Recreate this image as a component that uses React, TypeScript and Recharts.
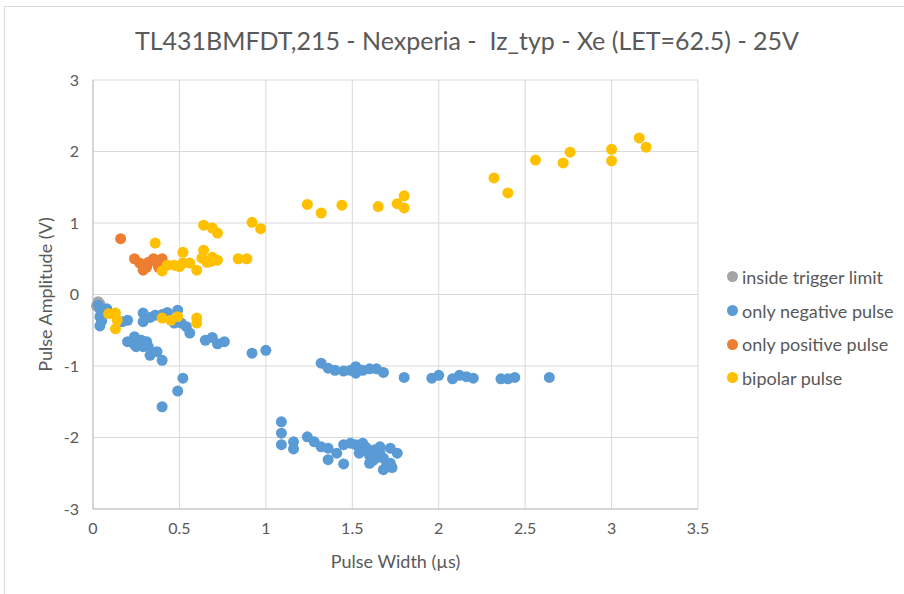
import type { JSX } from "react";

import { CartesianGrid, Scatter, ScatterChart, XAxis, YAxis } from "recharts";

// pulse width (µs) / amplitude (V) pairs
const insideTrigger = [
	{ x: 0.03, y: -0.1 },
	{ x: 0.04, y: -0.13 },
	{ x: 0.02, y: -0.16 },
];

const onlyNegative = [
	{ x: 0.03, y: -0.15 }, { x: 0.04, y: -0.2 }, { x: 0.05, y: -0.26 }, { x: 0.04, y: -0.31 }, { x: 0.05, y: -0.37 },
	{ x: 0.04, y: -0.44 }, { x: 0.06, y: -0.24 }, { x: 0.08, y: -0.2 }, { x: 0.17, y: -0.38 }, { x: 0.2, y: -0.36 },
	{ x: 0.29, y: -0.26 }, { x: 0.29, y: -0.38 }, { x: 0.33, y: -0.32 }, { x: 0.36, y: -0.29 }, { x: 0.4, y: -0.28 },
	{ x: 0.43, y: -0.25 }, { x: 0.49, y: -0.22 }, { x: 0.47, y: -0.4 }, { x: 0.51, y: -0.4 }, { x: 0.54, y: -0.45 },
	{ x: 0.56, y: -0.54 }, { x: 0.2, y: -0.66 }, { x: 0.24, y: -0.59 }, { x: 0.24, y: -0.7 }, { x: 0.28, y: -0.64 },
	{ x: 0.25, y: -0.73 }, { x: 0.29, y: -0.73 }, { x: 0.32, y: -0.73 }, { x: 0.31, y: -0.66 }, { x: 0.33, y: -0.85 },
	{ x: 0.37, y: -0.8 }, { x: 0.4, y: -0.92 }, { x: 0.65, y: -0.64 }, { x: 0.69, y: -0.6 }, { x: 0.72, y: -0.69 },
	{ x: 0.76, y: -0.66 }, { x: 0.92, y: -0.82 }, { x: 1.0, y: -0.78 }, { x: 0.52, y: -1.17 }, { x: 0.49, y: -1.35 },
	{ x: 0.4, y: -1.57 }, { x: 1.32, y: -0.96 }, { x: 1.36, y: -1.03 }, { x: 1.4, y: -1.06 }, { x: 1.45, y: -1.07 },
	{ x: 1.49, y: -1.06 }, { x: 1.52, y: -1.01 }, { x: 1.52, y: -1.1 }, { x: 1.56, y: -1.06 }, { x: 1.6, y: -1.04 },
	{ x: 1.64, y: -1.04 }, { x: 1.68, y: -1.09 }, { x: 1.8, y: -1.16 }, { x: 1.96, y: -1.17 }, { x: 2.0, y: -1.13 },
	{ x: 2.08, y: -1.18 }, { x: 2.12, y: -1.13 }, { x: 2.16, y: -1.15 }, { x: 2.2, y: -1.17 }, { x: 2.36, y: -1.18 },
	{ x: 2.4, y: -1.18 }, { x: 2.44, y: -1.16 }, { x: 2.64, y: -1.16 }, { x: 1.09, y: -1.78 }, { x: 1.09, y: -1.94 },
	{ x: 1.09, y: -2.1 }, { x: 1.16, y: -2.06 }, { x: 1.16, y: -2.16 }, { x: 1.24, y: -1.99 }, { x: 1.28, y: -2.06 },
	{ x: 1.32, y: -2.13 }, { x: 1.36, y: -2.15 }, { x: 1.36, y: -2.31 }, { x: 1.41, y: -2.22 }, { x: 1.45, y: -2.37 },
	{ x: 1.45, y: -2.1 }, { x: 1.49, y: -2.08 }, { x: 1.52, y: -2.1 }, { x: 1.56, y: -2.08 }, { x: 1.54, y: -2.22 },
	{ x: 1.6, y: -2.36 }, { x: 1.63, y: -2.17 }, { x: 1.66, y: -2.13 }, { x: 1.68, y: -2.29 }, { x: 1.68, y: -2.45 },
	{ x: 1.72, y: -2.15 }, { x: 1.72, y: -2.36 }, { x: 1.76, y: -2.22 }, { x: 1.73, y: -2.42 }, { x: 1.56, y: -2.18 },
	{ x: 1.6, y: -2.25 }, { x: 1.64, y: -2.28 }, { x: 1.62, y: -2.32 }, { x: 1.7, y: -2.38 }, { x: 1.66, y: -2.2 },
	{ x: 1.58, y: -2.14 },
];

const onlyPositive = [
	{ x: 0.16, y: 0.78 }, { x: 0.24, y: 0.5 }, { x: 0.27, y: 0.44 }, { x: 0.29, y: 0.34 }, { x: 0.32, y: 0.45 },
	{ x: 0.35, y: 0.5 }, { x: 0.37, y: 0.44 }, { x: 0.4, y: 0.5 }, { x: 0.38, y: 0.38 }, { x: 0.31, y: 0.38 },
];

const bipolar = [
	{ x: 0.36, y: 0.72 }, { x: 0.4, y: 0.33 }, { x: 0.43, y: 0.41 }, { x: 0.47, y: 0.41 }, { x: 0.5, y: 0.39 },
	{ x: 0.52, y: 0.59 }, { x: 0.52, y: 0.44 }, { x: 0.56, y: 0.44 }, { x: 0.6, y: 0.34 }, { x: 0.64, y: 0.62 },
	{ x: 0.63, y: 0.51 }, { x: 0.66, y: 0.45 }, { x: 0.68, y: 0.46 }, { x: 0.69, y: 0.52 }, { x: 0.72, y: 0.48 },
	{ x: 0.84, y: 0.5 }, { x: 0.89, y: 0.5 }, { x: 0.64, y: 0.97 }, { x: 0.69, y: 0.93 }, { x: 0.72, y: 0.86 },
	{ x: 0.92, y: 1.01 }, { x: 0.97, y: 0.92 }, { x: 1.24, y: 1.26 }, { x: 1.32, y: 1.14 }, { x: 1.44, y: 1.25 },
	{ x: 1.65, y: 1.23 }, { x: 1.76, y: 1.27 }, { x: 1.8, y: 1.38 }, { x: 1.8, y: 1.21 }, { x: 2.32, y: 1.63 },
	{ x: 2.4, y: 1.42 }, { x: 2.56, y: 1.88 }, { x: 2.72, y: 1.84 }, { x: 2.76, y: 1.99 }, { x: 3.0, y: 1.87 },
	{ x: 3.0, y: 2.03 }, { x: 3.16, y: 2.19 }, { x: 3.2, y: 2.06 }, { x: 0.09, y: -0.27 }, { x: 0.13, y: -0.26 },
	{ x: 0.14, y: -0.36 }, { x: 0.13, y: -0.48 }, { x: 0.4, y: -0.33 }, { x: 0.45, y: -0.36 }, { x: 0.49, y: -0.31 },
	{ x: 0.6, y: -0.33 }, { x: 0.6, y: -0.4 },
];

const xTicks = [0, 0.5, 1, 1.5, 2, 2.5, 3, 3.5];
const yTicks = [-3, -2, -1, 0, 1, 2, 3];

const seriesInfo = [
	{ color: "#A5A5A5", data: insideTrigger, name: "inside trigger limit" },
	{ color: "#5B9BD5", data: onlyNegative, name: "only negative pulse" },
	{ color: "#ED7D31", data: onlyPositive, name: "only positive pulse" },
	{ color: "#FFC000", data: bipolar, name: "bipolar pulse" },
];

const FONT = "Lato, 'Open Sans', sans-serif";
const TEXT = "#595959";

const dot = (color: string) => (props: { cx?: number; cy?: number }) => (
	<circle cx={props.cx} cy={props.cy} fill={color} r={5.5} />
);

export default function App(): JSX.Element {
	return (
		<div style={{ fontFamily: FONT, height: 594, left: 0, position: "absolute", top: 0, width: 904 }}>
			<div style={{ border: "1px solid #d9d9d9", bottom: -2, left: 4, position: "absolute", right: -2, top: 6 }} />
			<div style={{ color: TEXT, fontSize: 25, left: 0, lineHeight: "30px", position: "absolute", textAlign: "center", top: 25, whiteSpace: "pre", width: 934 }}>
				TL431BMFDT,215 - Nexperia -  Iz_typ - Xe (LET=62.5) - 25V
			</div>
			<div style={{ left: 0, position: "absolute", top: 0 }}>
				<ScatterChart height={594} margin={{ bottom: 35, left: 0, right: 206, top: 80 }} style={{ fontFamily: FONT }} width={904}>
					<CartesianGrid stroke="#d9d9d9" />
					<XAxis
						axisLine={{ stroke: "#bfbfbf" }}
						dataKey="x"
						domain={[0, 3.5]}
						height={50}
						label={{ fill: TEXT, fontSize: 18, offset: -9, position: "insideBottom", value: "Pulse Width (µs)" }}
						tick={{ dy: 6, fill: TEXT, fontSize: 16 }}
						tickLine={false}
						ticks={xTicks}
						type="number"
					/>
					<YAxis
						axisLine={{ stroke: "#bfbfbf" }}
						dataKey="y"
						domain={[-3, 3]}
						label={{ angle: -90, fill: TEXT, fontSize: 18, offset: 46, position: "insideLeft", style: { textAnchor: "middle" }, value: "Pulse Amplitude (V)" }}
						tick={{ dx: -6, fill: TEXT, fontSize: 16 }}
						tickLine={false}
						ticks={yTicks}
						type="number"
						width={93}
					/>
					{seriesInfo.map((s) => (
						<Scatter data={s.data} fill={s.color} isAnimationActive={false} key={s.name} name={s.name} shape={dot(s.color)} />
					))}
				</ScatterChart>
			</div>
			<div style={{ left: 727, position: "absolute", top: 260 }}>
				{seriesInfo.map((s) => (
					<div key={s.name} style={{ alignItems: "center", color: TEXT, display: "flex", fontSize: 18, height: 33.7 }}>
						<span style={{ background: s.color, borderRadius: "50%", display: "inline-block", height: 11, marginRight: 4, width: 11 }} />
						{s.name}
					</div>
				))}
			</div>
		</div>
	);
}
